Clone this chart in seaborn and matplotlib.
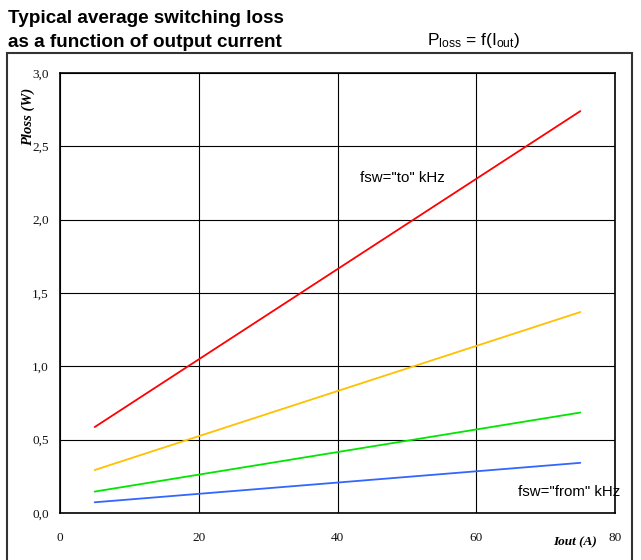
import matplotlib
matplotlib.use("Agg")
import matplotlib.pyplot as plt
import seaborn as sns
import pandas as pd
from matplotlib.patches import Rectangle

# Data
current = [5, 75]
loss_red = [0.586, 2.74]
loss_yellow = [0.293, 1.37]
loss_green = [0.146, 0.685]
loss_blue = [0.073, 0.342]
series_names = ["red", "yellow", "green", "blue"]
series_colors = ["#FF0000", "#FFC000", "#00E600", "#3366FF"]
x_ticks = [0, 20, 40, 60, 80]
y_ticks = [0.0, 0.5, 1.0, 1.5, 2.0, 2.5, 3.0]
y_tick_labels = ["0,0", "0,5", "1,0", "1,5", "2,0", "2,5", "3,0"]

rows = []
for name, vals in zip(series_names, [loss_red, loss_yellow, loss_green, loss_blue]):
    for x, y in zip(current, vals):
        rows.append({"Iout": x, "Ploss": y, "series": name})
df = pd.DataFrame(rows)

sns.set_theme(style="white")
plt.rcParams["font.family"] = ["Liberation Sans", "DejaVu Sans"]
plt.rcParams["mathtext.default"] = "regular"
plt.rcParams["text.color"] = "black"

W, H = 641, 560
fig = plt.figure(figsize=(W / 100, H / 100), dpi=100)
ax = fig.add_axes([60 / W, 1 - 513 / H, (615 - 60) / W, (513 - 73) / H])

sns.lineplot(data=df, x="Iout", y="Ploss", hue="series", hue_order=series_names,
             palette=series_colors, ax=ax, legend=False, linewidth=1.3)

ax.set_xlim(0, 80)
ax.set_ylim(0, 3.0)
ax.set_xticks(x_ticks)
ax.set_yticks(y_ticks)
ax.set_xticklabels([str(t) for t in x_ticks], family="Liberation Serif", fontsize=9.5)
ax.set_yticklabels(y_tick_labels, family="Liberation Serif", fontsize=9.5)
ax.tick_params(axis="both", length=0, colors="black", labelcolor="#111111")
ax.tick_params(axis="x", pad=14)
ax.tick_params(axis="y", pad=8)
ax.grid(True, color="black", linewidth=0.8)
ax.set_axisbelow(True)
for sp in ax.spines.values():
    sp.set_color("black")
    sp.set_linewidth(1.2)
ax.set_xlabel("")
ax.set_ylabel("")

# Outer frame
fig.patches.append(Rectangle((7 / W, -0.05), (632 - 7) / W, 1 - 53 / H + 0.05,
                             transform=fig.transFigure, fill=False,
                             edgecolor="#333333", linewidth=1.5))

# Titles
fig.text(8 / W, 1 - 23 / H, "Typical average switching loss", fontsize=13.6,
         fontweight="bold", va="baseline", ha="left")
fig.text(8 / W, 1 - 47 / H, "as a function of output current", fontsize=13.6,
         fontweight="bold", va="baseline", ha="left")
fig.text(427 / W, 1 - 45 / H, r"$P_{loss}$ = f($I_{out}$)", fontsize=12.5,
         va="baseline", ha="left")

# Axis labels
fig.text(28 / W, 1 - 117 / H, "Ploss (W)", rotation=90, family="Liberation Serif",
         fontweight="bold", fontstyle="italic", fontsize=10.5, ha="center", va="center")
fig.text(575 / W, 1 - 542 / H, "Iout (A)", family="Liberation Serif",
         fontweight="bold", fontstyle="italic", fontsize=9.5, ha="center", va="center")

# Annotations
fig.text(402 / W, 1 - 178 / H, 'fsw="to" kHz', fontsize=10.8, ha="center", va="center")
fig.text(569 / W, 1 - 492 / H, 'fsw="from" kHz', fontsize=10.8, ha="center", va="center")

fig.savefig("out.png", dpi=100)
